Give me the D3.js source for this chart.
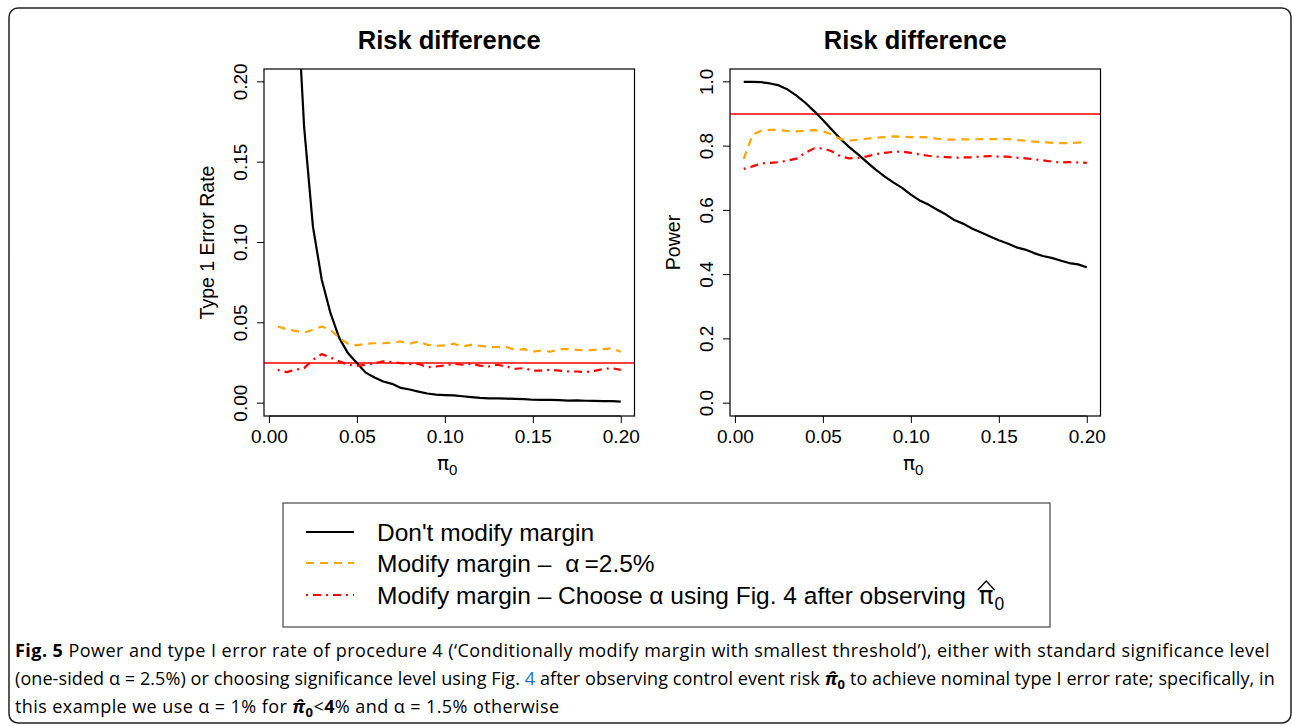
<!DOCTYPE html>
<html>
<head>
<meta charset="utf-8">
<script src="https://cdn.jsdelivr.net/npm/d3@7"></script>
<style>
  body { margin: 0; background: #fff; }
  svg text { font-family: "Liberation Sans", Arial, Helvetica, sans-serif; fill: #000; }
</style>
</head>
<body>
<div id="chart"></div>
<script>
// control event risk grid (x axis of both panels)
const piGrid = [0.005, 0.010, 0.015, 0.020, 0.025, 0.030, 0.035, 0.040, 0.045, 0.050,
  0.055, 0.060, 0.065, 0.070, 0.075, 0.080, 0.085, 0.090, 0.095, 0.100,
  0.105, 0.110, 0.115, 0.120, 0.125, 0.130, 0.135, 0.140, 0.145, 0.150,
  0.155, 0.160, 0.165, 0.170, 0.175, 0.180, 0.185, 0.190, 0.195, 0.200];

// type 1 error rate
const type1NoModify = [0.55, 0.42, 0.274, 0.172, 0.110, 0.077, 0.056, 0.0405, 0.031, 0.025,
  0.019, 0.016, 0.0135, 0.012, 0.0095, 0.0085, 0.0072, 0.006, 0.0053, 0.005,
  0.0048, 0.0043, 0.0038, 0.0033, 0.003, 0.003, 0.0028, 0.0026, 0.0025, 0.0021,
  0.002, 0.002, 0.0019, 0.0016, 0.0017, 0.0015, 0.0014, 0.0013, 0.0013, 0.001];
const type1ModifyFixed = [0.0477, 0.046, 0.045, 0.044, 0.0456, 0.0477, 0.0456, 0.0405, 0.037, 0.036,
  0.037, 0.0373, 0.0373, 0.0378, 0.0384, 0.037, 0.0384, 0.0363, 0.0357, 0.036,
  0.037, 0.0353, 0.0363, 0.0357, 0.0349, 0.0349, 0.0349, 0.0332, 0.0336, 0.032,
  0.0328, 0.032, 0.0336, 0.0336, 0.0332, 0.0328, 0.0332, 0.0336, 0.0342, 0.032];
const type1ModifyChoose = [0.0207, 0.0193, 0.0207, 0.0218, 0.027, 0.0305, 0.0284, 0.026, 0.0239, 0.0232,
  0.0239, 0.0249, 0.026, 0.0255, 0.0249, 0.0243, 0.0245, 0.0224, 0.0228, 0.0234,
  0.0245, 0.0239, 0.0245, 0.0234, 0.0228, 0.0239, 0.0228, 0.0214, 0.0218, 0.0203,
  0.0203, 0.0207, 0.0203, 0.0197, 0.0197, 0.0193, 0.0201, 0.0212, 0.0218, 0.0207];

// power
const powerNoModify = [1.0, 1.0, 0.999, 0.995, 0.989, 0.976, 0.957, 0.935, 0.909, 0.881,
  0.852, 0.822, 0.797, 0.774, 0.750, 0.727, 0.706, 0.687, 0.670, 0.649,
  0.631, 0.618, 0.602, 0.587, 0.569, 0.558, 0.543, 0.531, 0.519, 0.507,
  0.497, 0.485, 0.478, 0.467, 0.458, 0.452, 0.444, 0.436, 0.432, 0.423];
const powerModifyFixed = [0.760, 0.836, 0.848, 0.851, 0.850, 0.847, 0.846, 0.848, 0.850, 0.846,
  0.836, 0.822, 0.817, 0.820, 0.823, 0.826, 0.828, 0.830, 0.829, 0.828,
  0.828, 0.827, 0.823, 0.820, 0.820, 0.821, 0.821, 0.822, 0.822, 0.822,
  0.822, 0.819, 0.817, 0.814, 0.813, 0.810, 0.809, 0.809, 0.811, 0.814];
const powerModifyChoose = [0.729, 0.737, 0.746, 0.748, 0.750, 0.755, 0.761, 0.779, 0.793, 0.793,
  0.784, 0.768, 0.762, 0.763, 0.768, 0.775, 0.779, 0.782, 0.783, 0.779,
  0.774, 0.770, 0.767, 0.766, 0.764, 0.765, 0.765, 0.768, 0.769, 0.767,
  0.767, 0.764, 0.762, 0.759, 0.756, 0.752, 0.749, 0.750, 0.749, 0.748];

const xTicks = [0, 0.05, 0.10, 0.15, 0.20];
const type1Ticks = [0, 0.05, 0.10, 0.15, 0.20];
const powerTicks = [0, 0.2, 0.4, 0.6, 0.8, 1.0];
const type1Target = 0.025;
const powerTarget = 0.9;

// line styles for the three procedures
const styles = [
  { color: "#000000", dash: null },
  { color: "#FFA500", dash: "8,6" },
  { color: "#FF0000", dash: "2,5,8,5" }
];

const W = 1292, H = 726;
const svg = d3.select("#chart").append("svg").attr("width", W).attr("height", H);

// outer figure frame
svg.append("rect").attr("x", 9).attr("y", 8).attr("width", 1282).attr("height", 715)
  .attr("rx", 9).attr("fill", "none").attr("stroke", "#222").attr("stroke-width", 1.5);

function drawPanel(opts) {
  const box = { x: opts.left, y: 69, w: 370.5, h: 347 };
  const x = d3.scaleLinear().domain([-0.0028, 0.2078]).range([box.x, box.x + box.w]);
  const y = d3.scaleLinear().domain(opts.yDomain).range([box.y + box.h, box.y]);
  const g = svg.append("g");

  const clipId = "clip" + opts.left;
  g.append("clipPath").attr("id", clipId).append("rect")
    .attr("x", box.x).attr("y", box.y).attr("width", box.w).attr("height", box.h);

  // reference line
  g.append("line").attr("x1", box.x).attr("x2", box.x + box.w)
    .attr("y1", y(opts.target)).attr("y2", y(opts.target))
    .attr("stroke", "#FF0000").attr("stroke-width", 1.3);

  const line = d3.line().x((d, i) => x(piGrid[i])).y(d => y(d));
  opts.series.forEach((s, k) => {
    g.append("path").datum(s).attr("d", line)
      .attr("clip-path", "url(#" + clipId + ")")
      .attr("fill", "none").attr("stroke", styles[k].color)
      .attr("stroke-width", 2.2).attr("stroke-dasharray", styles[k].dash)
      .attr("stroke-linejoin", "round");
  });

  g.append("rect").attr("x", box.x).attr("y", box.y).attr("width", box.w).attr("height", box.h)
    .attr("fill", "none").attr("stroke", "#000").attr("stroke-width", 1.2);

  // x axis
  const xa = g.append("g").attr("transform", "translate(0," + (box.y + box.h) + ")")
    .call(d3.axisBottom(x).tickValues(xTicks).tickSize(7).tickFormat(d3.format(".2f")));
  xa.select(".domain").remove();
  xa.append("line").attr("x1", x(xTicks[0])).attr("x2", x(xTicks[xTicks.length - 1]))
    .attr("stroke", "#000");
  xa.selectAll("text").attr("y", 27).attr("dy", null)
    .style("font-size", "19px").style("font-family", "Liberation Sans, Arial, sans-serif").attr("fill", "#000");

  // y axis with labels parallel to the axis
  const ya = g.append("g").attr("transform", "translate(" + box.x + ",0)")
    .call(d3.axisLeft(y).tickValues(opts.yTicks).tickSize(7).tickFormat(opts.fmt));
  ya.select(".domain").remove();
  ya.selectAll("text")
    .attr("x", null).attr("dy", null)
    .attr("transform", d => "translate(-17," + y(d) + ") rotate(-90)")
    .attr("text-anchor", "middle")
    .style("font-size", "19px").style("font-family", "Liberation Sans, Arial, sans-serif").attr("fill", "#000");
  ya.selectAll(".tick").attr("transform", null);
  ya.selectAll(".tick line").attr("y1", d => y(d)).attr("y2", d => y(d));

  // titles
  g.append("text").attr("x", box.x + box.w / 2).attr("y", 49).attr("text-anchor", "middle")
    .style("font-size", "25.5px").style("font-weight", "bold").text("Risk difference");

  g.append("text")
    .attr("transform", "translate(" + (box.x - 50) + "," + (box.y + box.h / 2) + ") rotate(-90)")
    .attr("text-anchor", "middle").style("font-size", "19.5px").text(opts.yLabel);

  const xl = g.append("text").attr("x", box.x + box.w / 2 - 2).attr("y", 470)
    .attr("text-anchor", "middle").style("font-size", "20px");
  xl.append("tspan").style("font-family", "DejaVu Sans, sans-serif").text("\u03c0");
  xl.append("tspan").attr("dy", 5).style("font-size", "15px").text("0");
}

drawPanel({
  left: 264, yDomain: [-0.008, 0.208], yTicks: type1Ticks, fmt: d3.format(".2f"),
  target: type1Target, yLabel: "Type 1 Error Rate",
  series: [type1NoModify, type1ModifyFixed, type1ModifyChoose]
});
drawPanel({
  left: 730, yDomain: [-0.04, 1.04], yTicks: powerTicks, fmt: d3.format(".1f"),
  target: powerTarget, yLabel: "Power",
  series: [powerNoModify, powerModifyFixed, powerModifyChoose]
});

// legend
const lg = svg.append("g").style("font-size", "24.5px");
lg.append("rect").attr("x", 283).attr("y", 503).attr("width", 767).attr("height", 124)
  .attr("fill", "#fff").attr("stroke", "#555").attr("stroke-width", 1.3);
const rowY = [532, 563, 595];
rowY.forEach((ry, i) => {
  lg.append("line").attr("x1", 306).attr("x2", 354).attr("y1", ry).attr("y2", ry)
    .attr("stroke", styles[i].color).attr("stroke-width", 2)
    .attr("stroke-dasharray", styles[i].dash);
});
lg.append("text").attr("x", 377).attr("y", rowY[0] + 9).text("Don't modify margin");

const r2 = lg.append("text").attr("x", 377).attr("y", rowY[1] + 9);
r2.append("tspan").text("Modify margin \u2013");
r2.append("tspan").attr("dx", 14).text("\u03b1");
r2.append("tspan").attr("dx", 5).text("=2.5%");

const r3 = lg.append("text").attr("x", 377).attr("y", rowY[2] + 9)
  .text("Modify margin \u2013 Choose \u03b1 using Fig. 4 after observing");
const piX = 377 + r3.node().getComputedTextLength() + 13;
const pi = lg.append("text").attr("x", piX).attr("y", rowY[2] + 9)
  .style("font-family", "DejaVu Sans, sans-serif").text("\u03c0");
const piW = pi.node().getComputedTextLength();
lg.append("text").attr("x", piX + piW + 1).attr("y", rowY[2] + 15).style("font-size", "17.5px").text("0");
// hat over the pi
lg.append("path")
  .attr("d", "M" + (piX - 1) + "," + (rowY[2] - 5) + " L" + (piX + piW / 2) + "," + (rowY[2] - 14) +
    " L" + (piX + piW + 1) + "," + (rowY[2] - 5))
  .attr("fill", "none").attr("stroke", "#000").attr("stroke-width", 1.4);

// caption, each line stretched to the width it has in the figure
const cap = svg.append("g").style("font-size", "18px");
const capFont = "Open Sans, Noto Sans, sans-serif";
const capLineEnds = [1270, 1275, 560];

const l1 = cap.append("text").attr("x", 15).attr("y", 657).style("font-family", capFont);
l1.append("tspan").style("font-weight", "bold").text("Fig. 5");
l1.append("tspan").text(" Power and type I error rate of procedure 4 (\u2018Conditionally modify margin with smallest threshold\u2019), either with standard significance level");

const l2 = cap.append("text").attr("x", 15).attr("y", 685).style("font-family", capFont);
l2.append("tspan").text("(one-sided \u03b1 = 2.5%) or choosing significance level using Fig. ");
l2.append("tspan").style("fill", "#1a6fc9").text("4");
l2.append("tspan").text(" after observing control event risk ");
l2.append("tspan").style("font-weight", "bold").style("font-style", "italic").text("\u03c0\u0302");
l2.append("tspan").style("font-weight", "bold").attr("dy", 4).style("font-size", "13px").text("0");
l2.append("tspan").attr("dy", -4).text("  to achieve nominal type I error rate; specifically, in");

const l3 = cap.append("text").attr("x", 15).attr("y", 713).style("font-family", capFont);
l3.append("tspan").text("this example we use \u03b1 = 1% for ");
l3.append("tspan").style("font-weight", "bold").style("font-style", "italic").text("\u03c0\u0302");
l3.append("tspan").style("font-weight", "bold").attr("dy", 4).style("font-size", "13px").text("0");
l3.append("tspan").attr("dy", -4).text("<");
l3.append("tspan").style("font-weight", "bold").text("4");
l3.append("tspan").text("% and \u03b1 = 1.5% otherwise");

[l1, l2, l3].forEach((t, i) => {
  const node = t.node();
  const natural = node.getComputedTextLength();
  const n = node.textContent.length;
  t.style("letter-spacing", Math.max(0, (capLineEnds[i] - 15 - natural) / n) + "px");
});
</script>
</body>
</html>
